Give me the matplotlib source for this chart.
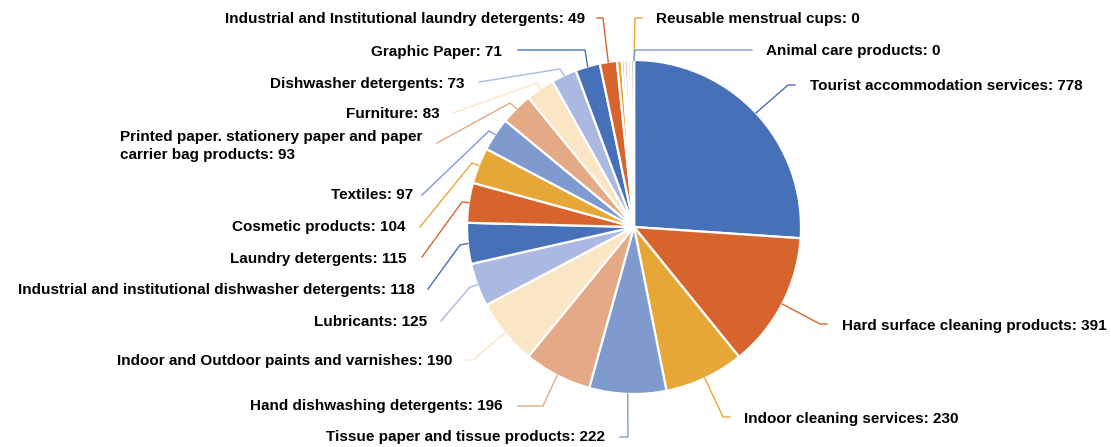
import math

import matplotlib.pyplot as plt

# ── Dados ─────────────────────────────────────────────────────────
categories = [
    "Tourist accommodation services",
    "Hard surface cleaning products",
    "Indoor cleaning services",
    "Tissue paper and tissue products",
    "Hand dishwashing detergents",
    "Indoor and Outdoor paints and varnishes",
    "Lubricants",
    "Industrial and institutional dishwasher detergents",
    "Laundry detergents",
    "Cosmetic products",
    "Textiles",
    "Printed paper. stationery paper and paper carrier bag products",
    "Furniture",
    "Dishwasher detergents",
    "Graphic Paper",
    "Industrial and Institutional laundry detergents",
    "", "", "", "", "",  # fatias pequenas sem rótulo
    "Reusable menstrual cups",
    "Animal care products",
]
values = [778, 391, 230, 222, 196, 190, 125, 118, 115, 104, 97, 93, 83, 73, 71, 49,
          14, 8, 9, 9, 9,
          0, 0]

palette = ["#4670B7", "#D8642D", "#E6A736", "#7F9ACE", "#E4A985", "#FAE5C5", "#ABB9E2"]
color_idx = [0, 1, 2, 3, 4, 5, 6, 0, 1, 2, 3, 4, 5, 6, 0, 1, 2, 3, 4, 5, 6, 2, 3]

# ── Layout dos rótulos (pixels: texto x, y, alinhamento, cotovelo, fim da linha) ──
label_layout = {
    0: (810, 86, "left", (788, 85), (795, 85)),
    1: (842, 326, "left", (820, 324), (827, 324)),
    2: (744, 419, "left", (723, 417), (730, 417)),
    3: (605, 437, "right", (628, 437), (620, 437)),
    4: (503, 406, "right", (543, 406), (518, 406)),
    5: (452, 361, "right", (473, 360), (466, 360)),
    6: (427, 322, "right", (470, 287), (441, 321)),
    7: (415, 290, "right", (460, 245), (428, 289)),
    8: (407, 259, "right", (462, 202), (422, 257)),
    9: (406, 227, "right", (472, 163), (420, 227)),
    10: (413, 195, "right", (489, 131), (422, 195)),
    11: (422, 146, "right", (510, 103), (437, 143)),
    12: (440, 114, "right", (537, 83), (453, 113)),
    13: (464, 84, "right", (560, 69), (479, 82)),
    14: (502, 52, "right", (585, 50), (518, 50)),
    15: (585, 19, "right", (603, 18), (597, 18)),
    21: (656, 19, "left", (635, 18), (642, 18)),
    22: (766, 51, "left", (635, 50), (752, 50)),
}

W, H = 1111, 447
CX, CY, R = 634, 227, 167


def px(x, y):
    return x, H - y


fig = plt.figure(figsize=(W / 100, H / 100), dpi=100)
ax = fig.add_axes([0, 0, 1, 1])

colors = [palette[i] for i in color_idx]
wedges, _ = ax.pie(
    values,
    colors=colors,
    startangle=90,
    counterclock=False,
    radius=R,
    center=px(CX, CY),
    wedgeprops=dict(edgecolor="white", linewidth=1.6),
)
ax.set_xlim(0, W)
ax.set_ylim(0, H)
ax.set_aspect("equal")
ax.axis("off")

for i, (tx, ty, ha, mid, end) in label_layout.items():
    w = wedges[i]
    ang = math.radians((w.theta1 + w.theta2) / 2)
    ax_x = w.center[0] + R * math.cos(ang)
    ax_y = w.center[1] + R * math.sin(ang)
    mx, my = px(*mid)
    ex, ey = px(*end)
    ax.plot([ax_x, mx, ex], [ax_y, my, ey], color=colors[i], lw=1.0,
            solid_joinstyle="miter")
    text = f"{categories[i]}: {values[i]}".replace("paper carrier", "paper\ncarrier")
    ax.text(*px(tx, ty), text, ha=ha, va="center", multialignment="left",
            fontsize=11, fontweight="bold", family="Liberation Sans",
            color="black", linespacing=1.45)

fig.savefig("out.png", dpi=100)
